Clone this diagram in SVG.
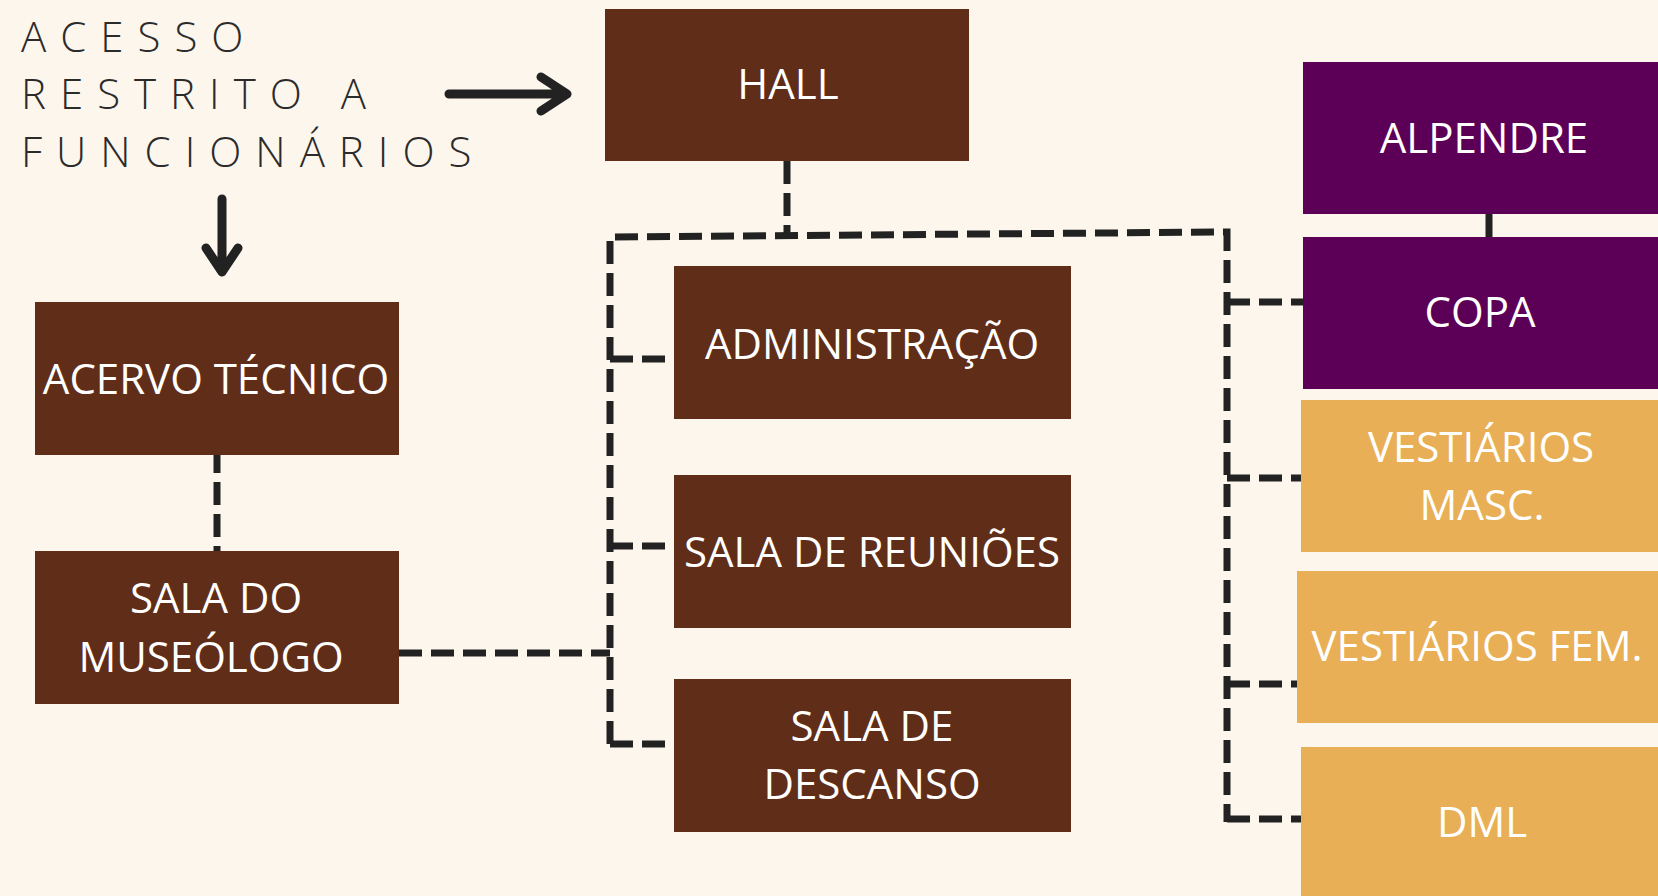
<svg xmlns="http://www.w3.org/2000/svg" width="1658" height="896" viewBox="0 0 1658 896">
<style>
.bg{fill:#FDF6ED}
.brown{fill:#5F2D18}
.purple{fill:#5C0057}
.orange{fill:#E9AF56}
.lbl{font-family:"Open Sans","Liberation Sans",sans-serif;font-size:42px;fill:#FFFFFF;text-anchor:middle}
.title{font-family:"Open Sans","Liberation Sans",sans-serif;font-size:42px;font-weight:300;fill:#2B2B2B;letter-spacing:14px}
.dash{fill:none;stroke:#222222;stroke-width:7;stroke-dasharray:23 9}
.arrow{fill:none;stroke:#222222;stroke-width:9;stroke-linecap:round;stroke-linejoin:round}
</style>
<rect class="bg" x="0" y="0" width="1658" height="896"/>
<g id="title">
<text class="title" x="21" y="52">ACESSO</text>
<text class="title" x="21" y="109">RESTRITO A</text>
<text class="title" x="21" y="167">FUNCIONÁRIOS</text>
</g>
<g id="connectors">
<path class="arrow" d="M449,94 L566,94 M541,77 L567,94 L541,111"/>
<path class="arrow" d="M222,199 L222,271 M206,248 L222,272 L238,248"/>
<path class="dash" d="M787,161 L787,236"/>
<path class="dash" d="M610,744 L610,237 L1227,232 L1227,822"/>
<path class="dash" d="M610,359 L679,359"/>
<path class="dash" d="M610,546 L674,546"/>
<path class="dash" d="M610,744 L680,744"/>
<path class="dash" d="M399,653 L610,653"/>
<path class="dash" d="M217,450 L217,551"/>
<path class="dash" d="M1227,302 L1303,302"/>
<path class="dash" d="M1227,478 L1301,478"/>
<path class="dash" d="M1227,684 L1297,684"/>
<path class="dash" d="M1227,819 L1301,819"/>
<path class="dash" stroke-dasharray="8 8" d="M1489,214 L1489,237"/>
</g>
<g id="hall">
<rect class="brown" x="605" y="9" width="364" height="152"/>
<text class="lbl" x="788" y="99">HALL</text>
</g>
<g id="acervo">
<rect class="brown" x="35" y="302" width="364" height="153"/>
<text class="lbl" x="216" y="394">ACERVO TÉCNICO</text>
</g>
<g id="museologo">
<rect class="brown" x="35" y="551" width="364" height="153"/>
<text class="lbl" x="216" y="613">SALA DO</text>
<text class="lbl" x="211" y="672">MUSEÓLOGO</text>
</g>
<g id="administracao">
<rect class="brown" x="674" y="266" width="397" height="153"/>
<text class="lbl" x="872" y="359">ADMINISTRAÇÃO</text>
</g>
<g id="reunioes">
<rect class="brown" x="674" y="475" width="397" height="153"/>
<text class="lbl" x="872" y="567">SALA DE REUNIÕES</text>
</g>
<g id="descanso">
<rect class="brown" x="674" y="679" width="397" height="153"/>
<text class="lbl" x="872" y="741">SALA DE</text>
<text class="lbl" x="872" y="799">DESCANSO</text>
</g>
<g id="alpendre">
<rect class="purple" x="1303" y="62" width="355" height="152"/>
<text class="lbl" x="1484" y="153">ALPENDRE</text>
</g>
<g id="copa">
<rect class="purple" x="1303" y="237" width="355" height="152"/>
<text class="lbl" x="1480" y="327">COPA</text>
</g>
<g id="vest-masc">
<rect class="orange" x="1301" y="400" width="357" height="152"/>
<text class="lbl" x="1481" y="462">VESTIÁRIOS</text>
<text class="lbl" x="1482" y="520">MASC.</text>
</g>
<g id="vest-fem">
<rect class="orange" x="1297" y="571" width="361" height="152"/>
<text class="lbl" x="1477" y="661">VESTIÁRIOS FEM.</text>
</g>
<g id="dml">
<rect class="orange" x="1301" y="747" width="357" height="149"/>
<text class="lbl" x="1482" y="837">DML</text>
</g>
</svg>
